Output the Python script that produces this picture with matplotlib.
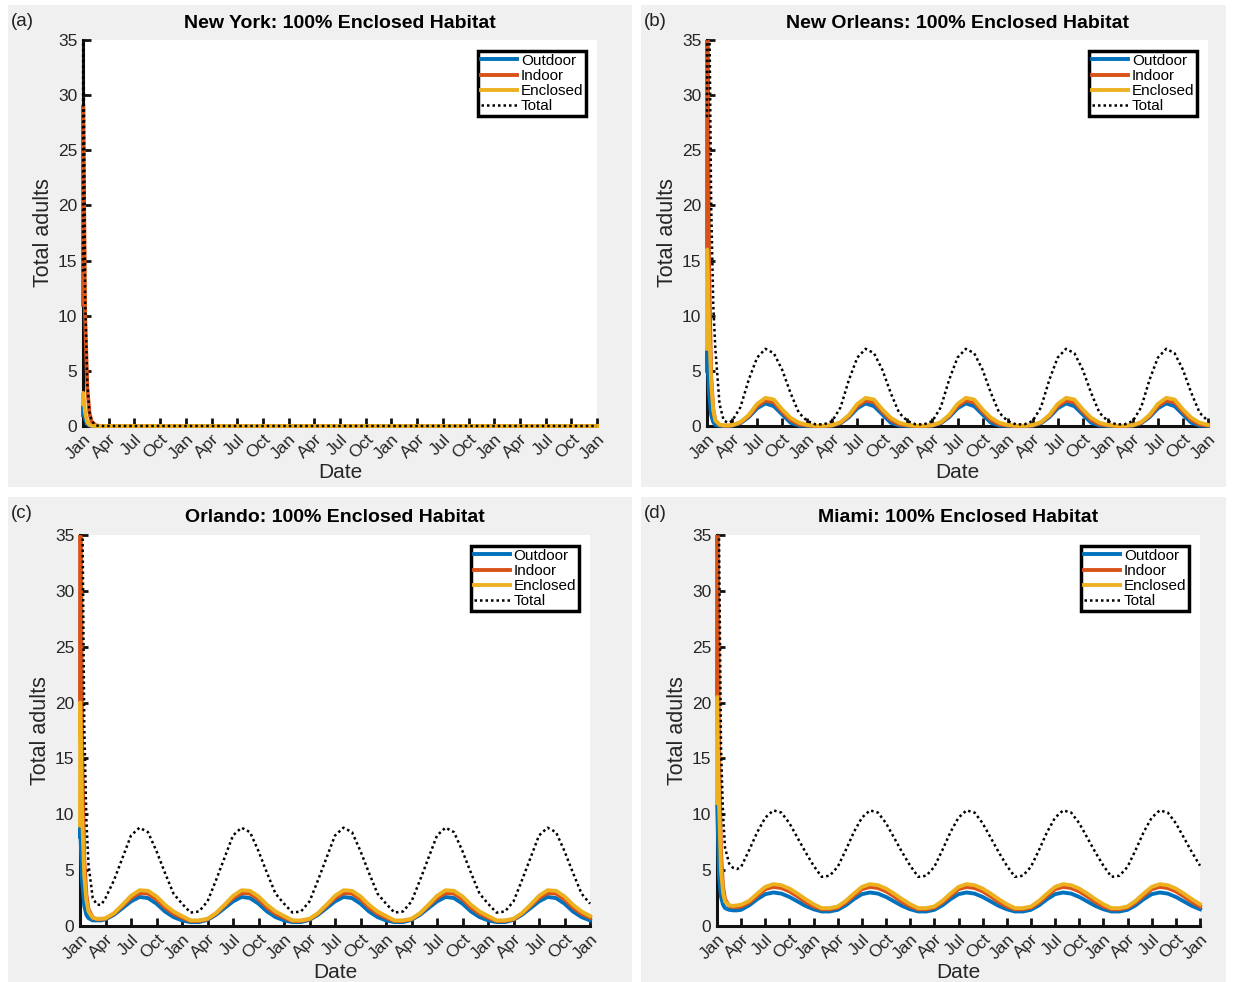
import matplotlib
matplotlib.use('Agg')
import matplotlib.pyplot as plt
from matplotlib.patches import Rectangle
from matplotlib.transforms import Bbox, TransformedBbox

plt.rcParams['font.family'] = ['Liberation Sans', 'DejaVu Sans']

# time axis in months from the first January; dense at the start for the initial transient
t_start = [0, 0.02, 0.25, 0.5, 0.75, 1.0, 1.5, 2.0, 2.5, 3.0]
t = t_start + list(range(4, 61))
t_ny = [0, 0.02, 0.25, 0.5, 0.75, 1.0, 1.5, 2.0, 60]

month_labels = ['Jan', 'Apr', 'Jul', 'Oct']
titles = ['New York: 100% Enclosed Habitat', 'New Orleans: 100% Enclosed Habitat',
          'Orlando: 100% Enclosed Habitat', 'Miami: 100% Enclosed Habitat']
panel_tags = ['(a)', '(b)', '(c)', '(d)']
series_names = ['Outdoor', 'Indoor', 'Enclosed', 'Total']

# New York
ny_outdoor = [1.0, 2.0, 0.6, 0.15, 0.05, 0.0, 0.0, 0.0, 0.0]
ny_indoor = [11.0, 29.0, 10.0, 3.5, 1.2, 0.4, 0.05, 0.0, 0.0]
ny_enclosed = [2.0, 3.0, 1.2, 0.35, 0.1, 0.03, 0.0, 0.0, 0.0]
ny_total = [14.0, 40.0, 11.5, 3.9, 1.3, 0.45, 0.05, 0.0, 0.0]

# New Orleans
no_outdoor = [5, 7, 3.0, 1.0, 0.35, 0.1, 0.02, 0.0, 0.0, 0.03,
              0.25, 0.8, 1.6, 2.05, 1.8, 1.05, 0.3, 0.05,
              0.0, 0.0, 0.0, 0.03, 0.25, 0.8, 1.6, 2.05, 1.8, 1.05, 0.3, 0.05,
              0.0, 0.0, 0.0, 0.03, 0.25, 0.8, 1.6, 2.05, 1.8, 1.05, 0.3, 0.05,
              0.0, 0.0, 0.0, 0.03, 0.25, 0.8, 1.6, 2.05, 1.8, 1.05, 0.3, 0.05,
              0.0, 0.0, 0.0, 0.03, 0.25, 0.8, 1.6, 2.05, 1.8, 1.05, 0.3, 0.05,
              0.0]
no_indoor = [16, 45, 14, 4.5, 1.5, 0.5, 0.1, 0.03, 0.02, 0.05,
             0.3, 0.9, 1.8, 2.3, 2.15, 1.3, 0.55, 0.15,
             0.05, 0.0, 0.0, 0.05, 0.3, 0.9, 1.8, 2.3, 2.15, 1.3, 0.55, 0.15,
             0.05, 0.0, 0.0, 0.05, 0.3, 0.9, 1.8, 2.3, 2.15, 1.3, 0.55, 0.15,
             0.05, 0.0, 0.0, 0.05, 0.3, 0.9, 1.8, 2.3, 2.15, 1.3, 0.55, 0.15,
             0.05, 0.0, 0.0, 0.05, 0.3, 0.9, 1.8, 2.3, 2.15, 1.3, 0.55, 0.15,
             0.05]
no_enclosed = [7, 16, 9, 4.0, 1.4, 0.5, 0.12, 0.05, 0.05, 0.08,
               0.35, 1.0, 2.0, 2.55, 2.4, 1.5, 0.75, 0.3,
               0.1, 0.02, 0.02, 0.08, 0.35, 1.0, 2.0, 2.55, 2.4, 1.5, 0.75, 0.3,
               0.1, 0.02, 0.02, 0.08, 0.35, 1.0, 2.0, 2.55, 2.4, 1.5, 0.75, 0.3,
               0.1, 0.02, 0.02, 0.08, 0.35, 1.0, 2.0, 2.55, 2.4, 1.5, 0.75, 0.3,
               0.1, 0.02, 0.02, 0.08, 0.35, 1.0, 2.0, 2.55, 2.4, 1.5, 0.75, 0.3,
               0.1]
no_total = [28, 70, 40, 20, 11, 7.0, 2.0, 0.5, 0.3, 0.45,
            1.7, 4.2, 6.2, 7.0, 6.6, 5.1, 3.0, 1.2,
            0.45, 0.15, 0.15, 0.45, 1.7, 4.2, 6.2, 7.0, 6.6, 5.1, 3.0, 1.2,
            0.45, 0.15, 0.15, 0.45, 1.7, 4.2, 6.2, 7.0, 6.6, 5.1, 3.0, 1.2,
            0.45, 0.15, 0.15, 0.45, 1.7, 4.2, 6.2, 7.0, 6.6, 5.1, 3.0, 1.2,
            0.45, 0.15, 0.15, 0.45, 1.7, 4.2, 6.2, 7.0, 6.6, 5.1, 3.0, 1.2,
            0.45]

# Orlando
or_outdoor = [8, 9, 4.0, 1.8, 1.0, 0.7, 0.5, 0.5, 0.5, 0.6,
              1.0, 1.6, 2.2, 2.6, 2.5, 2.0, 1.3, 0.8,
              0.5, 0.35, 0.35, 0.55, 1.0, 1.6, 2.2, 2.6, 2.5, 2.0, 1.3, 0.8,
              0.5, 0.35, 0.35, 0.55, 1.0, 1.6, 2.2, 2.6, 2.5, 2.0, 1.3, 0.8,
              0.5, 0.35, 0.35, 0.55, 1.0, 1.6, 2.2, 2.6, 2.5, 2.0, 1.3, 0.8,
              0.5, 0.35, 0.35, 0.55, 1.0, 1.6, 2.2, 2.6, 2.5, 2.0, 1.3, 0.8,
              0.5]
or_indoor = [20, 45, 16, 6.0, 2.8, 1.5, 0.75, 0.6, 0.6, 0.65,
             1.1, 1.8, 2.5, 2.95, 2.9, 2.4, 1.65, 1.1,
             0.75, 0.45, 0.45, 0.6, 1.1, 1.8, 2.5, 2.95, 2.9, 2.4, 1.65, 1.1,
             0.75, 0.45, 0.45, 0.6, 1.1, 1.8, 2.5, 2.95, 2.9, 2.4, 1.65, 1.1,
             0.75, 0.45, 0.45, 0.6, 1.1, 1.8, 2.5, 2.95, 2.9, 2.4, 1.65, 1.1,
             0.75, 0.45, 0.45, 0.6, 1.1, 1.8, 2.5, 2.95, 2.9, 2.4, 1.65, 1.1,
             0.75]
or_enclosed = [9, 20, 10, 4.5, 2.3, 1.3, 0.75, 0.65, 0.65, 0.7,
               1.15, 1.9, 2.7, 3.2, 3.15, 2.65, 1.9, 1.3,
               0.9, 0.5, 0.5, 0.65, 1.15, 1.9, 2.7, 3.2, 3.15, 2.65, 1.9, 1.3,
               0.9, 0.5, 0.5, 0.65, 1.15, 1.9, 2.7, 3.2, 3.15, 2.65, 1.9, 1.3,
               0.9, 0.5, 0.5, 0.65, 1.15, 1.9, 2.7, 3.2, 3.15, 2.65, 1.9, 1.3,
               0.9, 0.5, 0.5, 0.65, 1.15, 1.9, 2.7, 3.2, 3.15, 2.65, 1.9, 1.3,
               0.9]
or_total = [37, 74, 40, 18, 9.5, 5.5, 2.5, 1.9, 1.9, 2.5,
            4.1, 6.1, 8.1, 8.8, 8.4, 6.7, 4.75, 2.9,
            2.0, 1.2, 1.3, 2.2, 4.1, 6.1, 8.1, 8.8, 8.4, 6.7, 4.75, 2.9,
            2.0, 1.2, 1.3, 2.2, 4.1, 6.1, 8.1, 8.8, 8.4, 6.7, 4.75, 2.9,
            2.0, 1.2, 1.3, 2.2, 4.1, 6.1, 8.1, 8.8, 8.4, 6.7, 4.75, 2.9,
            2.0, 1.2, 1.3, 2.2, 4.1, 6.1, 8.1, 8.8, 8.4, 6.7, 4.75, 2.9,
            2.0]

# Miami
mi_outdoor = [11, 11, 4.5, 2.6, 1.9, 1.6, 1.45, 1.4, 1.4, 1.45,
              1.85, 2.4, 2.85, 3.0, 2.9, 2.6, 2.2, 1.8,
              1.5, 1.3, 1.3, 1.45, 1.85, 2.4, 2.85, 3.0, 2.9, 2.6, 2.2, 1.8,
              1.5, 1.3, 1.3, 1.45, 1.85, 2.4, 2.85, 3.0, 2.9, 2.6, 2.2, 1.8,
              1.5, 1.3, 1.3, 1.45, 1.85, 2.4, 2.85, 3.0, 2.9, 2.6, 2.2, 1.8,
              1.5, 1.3, 1.3, 1.45, 1.85, 2.4, 2.85, 3.0, 2.9, 2.6, 2.2, 1.8,
              1.5]
mi_indoor = [20.5, 45, 16, 6.5, 3.5, 2.4, 1.8, 1.7, 1.7, 1.75,
             2.1, 2.7, 3.3, 3.5, 3.4, 3.1, 2.65, 2.15,
             1.75, 1.5, 1.5, 1.65, 2.1, 2.7, 3.3, 3.5, 3.4, 3.1, 2.65, 2.15,
             1.75, 1.5, 1.5, 1.65, 2.1, 2.7, 3.3, 3.5, 3.4, 3.1, 2.65, 2.15,
             1.75, 1.5, 1.5, 1.65, 2.1, 2.7, 3.3, 3.5, 3.4, 3.1, 2.65, 2.15,
             1.75, 1.5, 1.5, 1.65, 2.1, 2.7, 3.3, 3.5, 3.4, 3.1, 2.65, 2.15,
             1.75]
mi_enclosed = [11, 20.5, 11, 5.0, 3.0, 2.2, 1.85, 1.8, 1.85, 1.9,
               2.25, 2.9, 3.5, 3.75, 3.65, 3.35, 2.9, 2.4,
               1.95, 1.6, 1.6, 1.75, 2.25, 2.9, 3.5, 3.75, 3.65, 3.35, 2.9, 2.4,
               1.95, 1.6, 1.6, 1.75, 2.25, 2.9, 3.5, 3.75, 3.65, 3.35, 2.9, 2.4,
               1.95, 1.6, 1.6, 1.75, 2.25, 2.9, 3.5, 3.75, 3.65, 3.35, 2.9, 2.4,
               1.95, 1.6, 1.6, 1.75, 2.25, 2.9, 3.5, 3.75, 3.65, 3.35, 2.9, 2.4,
               1.95]
mi_total = [42, 77, 35, 16, 10, 7.0, 5.6, 5.2, 5.1, 5.3,
            6.8, 8.4, 9.7, 10.35, 10.15, 9.2, 7.9, 6.6,
            5.4, 4.4, 4.5, 5.3, 6.8, 8.4, 9.7, 10.35, 10.15, 9.2, 7.9, 6.6,
            5.4, 4.4, 4.5, 5.3, 6.8, 8.4, 9.7, 10.35, 10.15, 9.2, 7.9, 6.6,
            5.4, 4.4, 4.5, 5.3, 6.8, 8.4, 9.7, 10.35, 10.15, 9.2, 7.9, 6.6,
            5.4, 4.4, 4.5, 5.3, 6.8, 8.4, 9.7, 10.35, 10.15, 9.2, 7.9, 6.6,
            5.4]

panels = [
    (t_ny, [ny_outdoor, ny_indoor, ny_enclosed, ny_total]),
    (t, [no_outdoor, no_indoor, no_enclosed, no_total]),
    (t, [or_outdoor, or_indoor, or_enclosed, or_total]),
    (t, [mi_outdoor, mi_indoor, mi_enclosed, mi_total]),
]

colors = ['#0072BD', '#D95319', '#EDB120', 'black']

W, H = 1233, 982
fig = plt.figure(figsize=(W / 100, H / 100), dpi=100)
fig.patch.set_facecolor('white')

# grey panel backgrounds and axes boxes in pixels: (x0, y0, x1, y1)
backs = [(8, 5, 632, 487), (641, 5, 1226, 487), (8, 497, 632, 982), (641, 497, 1226, 982)]
boxes = [(83, 40, 597, 426), (707, 40, 1208, 426), (80, 535, 590, 926), (717, 535, 1200, 926)]

for i in range(4):
    bx0, by0, bx1, by1 = backs[i]
    fig.add_artist(Rectangle((bx0 / W, 1 - by1 / H), (bx1 - bx0) / W, (by1 - by0) / H,
                             transform=fig.transFigure, facecolor='#f0f0f0',
                             edgecolor='none', zorder=0))
    x0, y0, x1, y1 = boxes[i]
    ax = fig.add_axes([x0 / W, 1 - y1 / H, (x1 - x0) / W, (y1 - y0) / H])
    ax.set_facecolor('white')

    tx, series = panels[i]
    clip = TransformedBbox(Bbox([[-0.02, -0.015], [1.01, 1.0]]), ax.transAxes)
    for k in range(4):
        if k < 3:
            line, = ax.plot(tx, series[k], color=colors[k], lw=2.8, label=series_names[k],
                            zorder=3, solid_joinstyle='round')
        else:
            line, = ax.plot(tx, series[k], color='black', lw=1.8, ls=(0, (1, 1.2)),
                            label=series_names[k], zorder=4)
        line.set_clip_box(clip)

    ax.set_xlim(0, 60)
    ax.set_ylim(0, 35)
    ax.set_yticks(range(0, 36, 5))
    ax.set_xticks(range(0, 61, 3))
    ax.set_xticklabels([month_labels[j % 4] for j in range(21)], rotation=45,
                       ha='right', va='top', rotation_mode='anchor')
    for s in ['top', 'right']:
        ax.spines[s].set_visible(False)
    for s in ['left', 'bottom']:
        ax.spines[s].set_linewidth(2.2)
        ax.spines[s].set_color('#111111')
    ax.tick_params(direction='in', length=6, width=2, colors='#111111',
                   labelcolor='#262626', labelsize=12.5, pad=4)
    ax.set_ylabel('Total adults', fontsize=15.5, color='#262626', labelpad=3)
    ax.set_xlabel('Date', fontsize=15, color='#262626', labelpad=1)
    ax.set_title(titles[i], fontsize=14, fontweight='bold', pad=9)

    leg = ax.legend(loc='upper right', fontsize=11, frameon=True, fancybox=False,
                    handlelength=2.35, handletextpad=0.25, labelspacing=0.08,
                    borderpad=0.2, borderaxespad=0.7, framealpha=1)
    leg.get_frame().set_edgecolor('black')
    leg.get_frame().set_linewidth(2.5)

    fig.text((bx0 + 3) / W, 1 - (by0 + 17) / H, panel_tags[i], fontsize=13.5,
             va='center', ha='left', color='#222222')

fig.savefig('out.png', dpi=100)
